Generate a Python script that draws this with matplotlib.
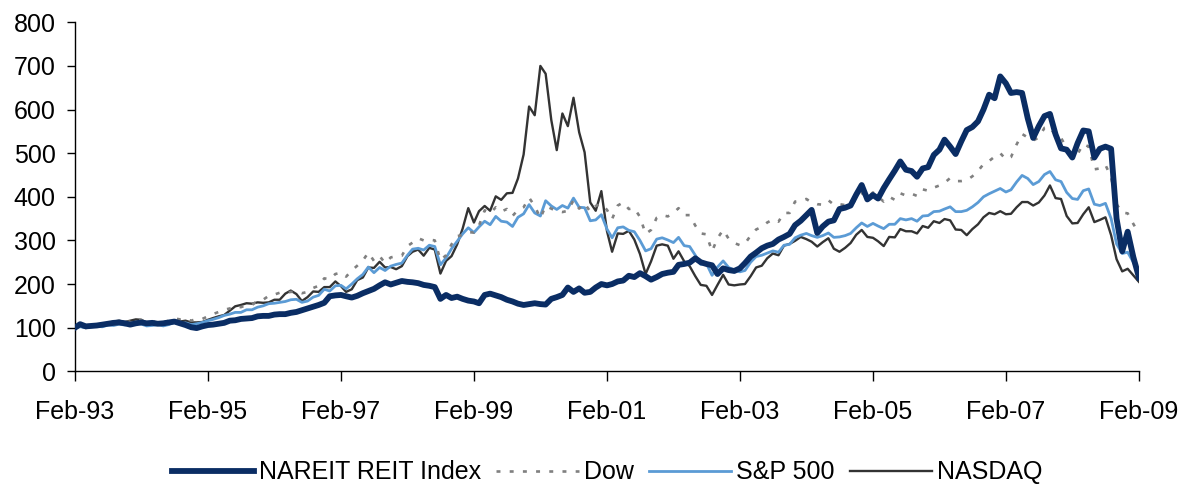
import matplotlib
matplotlib.use('Agg')
import matplotlib.pyplot as plt
import matplotlib.dates as mdates
import pandas as pd

plt.rcParams['font.family'] = ['Liberation Sans', 'DejaVu Sans']

# monthly index levels, Feb-93 = 100
months = pd.date_range('1993-02-01', '2009-02-01', freq='MS')

nareit = [
    100, 108, 103, 104, 105, 107, 109, 111, 112, 110,
    107, 110, 112, 110, 111, 109, 110, 112, 114, 110,
    106, 101, 99, 103, 106, 107, 109, 111, 116, 117,
    120, 121, 122, 126, 127, 127, 130, 131, 131, 134,
    136, 140, 144, 148, 152, 157, 172, 174, 175, 172,
    169, 173, 179, 184, 189, 197, 204, 199, 203, 207,
    205, 204, 202, 198, 196, 193, 166, 175, 168, 171,
    166, 162, 160, 156, 175, 178, 174, 170, 164, 160,
    155, 152, 154, 156, 154, 153, 166, 170, 175, 192,
    182, 190, 180, 182, 192, 200, 197, 200, 206, 208,
    219, 216, 225, 218, 210, 216, 223, 226, 228, 244,
    246, 249, 259, 250, 246, 243, 223, 236, 232, 230,
    236, 248, 263, 272, 282, 288, 292, 302, 308, 315,
    335, 345, 358, 370, 317, 332, 343, 346, 372, 375,
    380, 405, 427, 394, 404, 396, 420, 440, 460, 481,
    462, 459, 446, 465, 468, 496, 508, 531, 515, 498,
    527, 553, 560, 573, 600, 634, 626, 676, 660, 638,
    640, 638, 580, 535, 562, 585, 590, 543, 511, 508,
    490, 523, 552, 550, 490, 510, 515, 510, 350, 275,
    320, 262, 215,
]

dow = [
    100, 102, 102, 105, 105, 106, 110, 107, 111, 112,
    114, 121, 117, 111, 113, 115, 112, 116, 121, 119,
    121, 116, 120, 120, 126, 131, 136, 141, 144, 149,
    147, 152, 152, 162, 164, 173, 176, 180, 180, 182,
    183, 179, 182, 191, 196, 213, 211, 223, 226, 217,
    231, 242, 254, 272, 253, 264, 248, 261, 264, 265,
    287, 295, 305, 300, 302, 300, 255, 266, 291, 310,
    312, 319, 318, 334, 369, 362, 376, 366, 372, 356,
    370, 376, 398, 379, 351, 379, 373, 367, 365, 368,
    392, 373, 385, 366, 379, 384, 370, 349, 380, 387,
    372, 374, 354, 315, 324, 352, 358, 355, 363, 374,
    358, 358, 334, 316, 314, 275, 305, 324, 304, 294,
    289, 293, 311, 325, 331, 341, 348, 343, 363, 363,
    389, 391, 395, 387, 383, 382, 392, 382, 383, 381,
    379, 395, 409, 398, 410, 400, 389, 400, 393, 408,
    403, 407, 402, 417, 414, 421, 426, 432, 443, 436,
    436, 438, 447, 459, 475, 482, 492, 500, 486, 491,
    520, 544, 536, 529, 536, 558, 560, 539, 535, 512,
    497, 498, 521, 515, 463, 465, 473, 445, 383, 364,
    362, 338, 315,
]

sp500 = [
    100, 102, 100, 102, 103, 102, 106, 105, 108, 106,
    108, 111, 108, 104, 105, 107, 104, 107, 112, 109,
    111, 107, 109, 112, 116, 119, 123, 128, 131, 135,
    135, 141, 141, 147, 150, 155, 156, 158, 160, 164,
    165, 158, 161, 170, 174, 188, 184, 196, 197, 189,
    200, 212, 222, 239, 226, 238, 231, 241, 245, 248,
    266, 280, 282, 278, 289, 286, 244, 260, 281, 298,
    315, 329, 318, 331, 344, 336, 355, 344, 342, 332,
    353, 361, 382, 363, 356, 391, 379, 371, 380, 374,
    397, 376, 375, 345, 347, 359, 326, 306, 329, 331,
    323, 320, 300, 276, 281, 303, 306, 301, 295, 307,
    288, 286, 266, 245, 247, 220, 239, 253, 238, 232,
    228, 231, 250, 263, 266, 271, 276, 273, 289, 291,
    306, 312, 316, 311, 307, 311, 317, 307, 308, 311,
    316, 329, 340, 332, 339, 333, 327, 337, 337, 350,
    347, 350, 344, 356, 357, 366, 367, 372, 377, 366,
    366, 369, 377, 387, 400, 407, 413, 419, 411, 416,
    434, 449, 442, 428, 435, 451, 458, 439, 435, 410,
    396, 394, 414, 418, 383, 380, 385, 350, 292, 270,
    273, 250, 223,
]

nasdaq = [
    100, 103, 99, 104, 105, 105, 111, 114, 116, 113,
    116, 119, 118, 111, 109, 110, 105, 108, 114, 114,
    116, 112, 112, 113, 118, 122, 126, 129, 139, 149,
    152, 156, 155, 158, 157, 158, 164, 164, 178, 185,
    177, 161, 170, 183, 182, 193, 193, 206, 195, 182,
    188, 209, 215, 238, 237, 251, 238, 239, 234, 241,
    264, 274, 279, 265, 283, 279, 224, 253, 264, 291,
    327, 374, 341, 367, 379, 368, 401, 393, 408, 409,
    442, 497, 607, 587, 700, 682, 576, 507, 591, 562,
    627, 548, 502, 387, 368, 413, 321, 274, 316, 315,
    322, 302, 269, 223, 252, 288, 291, 288, 258, 275,
    252, 241, 218, 198, 196, 175, 198, 221, 199, 197,
    199, 200, 218, 238, 242, 259, 270, 266, 288, 292,
    299, 308, 303, 297, 286, 296, 305, 281, 274, 283,
    294, 313, 324, 308, 306, 298, 287, 308, 307, 326,
    321, 321, 316, 333, 329, 344, 340, 349, 346, 325,
    324, 312, 326, 337, 353, 363, 360, 367, 360, 361,
    376, 388, 388, 380, 387, 403, 426, 397, 395, 356,
    339, 340, 360, 376, 342, 347, 353, 312, 257, 229,
    235, 220, 205,
]

fig = plt.figure(figsize=(11.93, 4.87), dpi=100)
ax = fig.add_axes([0.0629, 0.2376, 0.8918, 0.7166])

ax.plot(months, nasdaq, color='#333333', lw=1.7, label='NASDAQ', zorder=3)
ax.plot(months, sp500, color='#5b9bd5', lw=2.0, label='S&P 500', zorder=4)
ax.plot(months, dow, color='#808080', lw=1.9, linestyle=(0, (1.5, 3.5)),
        label='Dow', zorder=5)
ax.plot(months, nareit, color='#0a2d64', lw=4.2, label='NAREIT REIT Index',
        solid_joinstyle='round', zorder=6)

ax.set_xlim(months[0], months[-1])
ax.set_ylim(0, 800)
ax.set_yticks(range(0, 801, 100))
ax.set_xticks(months[::24])
ax.xaxis.set_major_formatter(mdates.DateFormatter('%b-%y'))

for s in ['top', 'right']:
    ax.spines[s].set_visible(False)
for s in ['left', 'bottom']:
    ax.spines[s].set_linewidth(1.0)
    ax.spines[s].set_color('black')

ax.tick_params(axis='y', direction='out', length=6, width=1, pad=8, labelsize=18)
ax.tick_params(axis='x', direction='out', length=7, width=1, pad=14, labelsize=18)

handles, labels = ax.get_legend_handles_labels()
order = [3, 2, 1, 0]
fig.legend([handles[i] for i in order], [labels[i] for i in order],
           loc='center', bbox_to_anchor=(0.509, 0.03), ncol=4, frameon=False,
           fontsize=18, handlelength=3.3, handletextpad=0.2, columnspacing=0.6)

fig.savefig('out.png', dpi=100)
